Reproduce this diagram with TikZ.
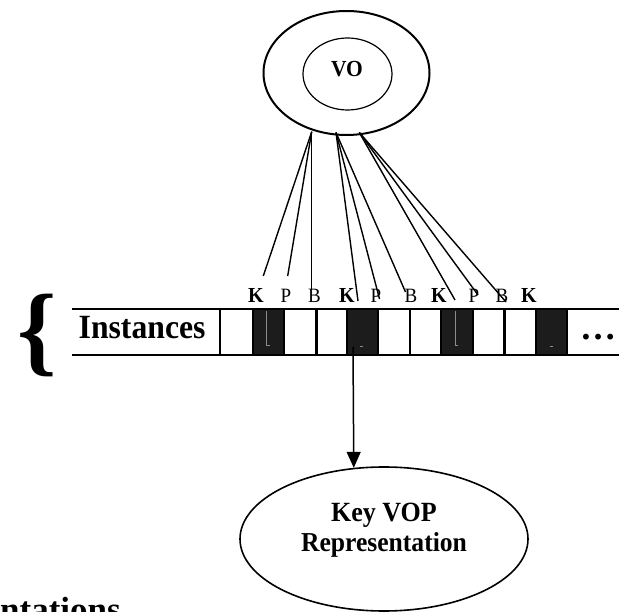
\documentclass[tikz,border=0pt]{standalone}
\usepackage{fontspec}
\setmainfont{Liberation Serif}
\usetikzlibrary{arrows.meta,shapes.geometric}

% slightly tall lettering
\newcommand{\tallbox}[1]{\scalebox{1}[1.07]{#1}}

\tikzset{
  ring/.style={draw, ellipse, inner sep=0pt},
  link/.style={line width=1.4pt},
  barline/.style={line width=2.2pt},
  keycell/.style={fill=black!89},
  faint/.style={draw=black!45, line width=0.6pt},
  tagk/.style={anchor=base, inner sep=0pt, font=\fontsize{20}{20}\selectfont\bfseries},
  tagpb/.style={anchor=base, inner sep=0pt, font=\fontsize{19}{19}\selectfont},
  bigbold/.style={inner sep=0pt, font=\fontsize{#1}{#1}\selectfont\bfseries},
}

\begin{document}
\begin{tikzpicture}[x=1pt, y=-1pt]
\path[use as bounding box, clip] (0,0) rectangle (619,612);

% video object
\node[ring, line width=2pt, minimum width=166pt, minimum height=124pt] (vo) at (346.5,73) {};
\node[ring, line width=1.2pt, minimum width=89pt, minimum height=72pt] (voin) at (347.5,74) {};
\node[bigbold=21.5, anchor=base] (votext) at (347,76.7) {\tallbox{VO}};

% frame type labels
\node[tagk]  (k1) at (256,303) {\tallbox{K}};
\node[tagpb] (p1) at (286,303) {\tallbox{P}};
\node[tagpb] (b1) at (314.5,303) {\tallbox{B}};
\node[tagk]  (k2) at (347,303) {\tallbox{K}};
\node[tagpb] (p2) at (376,303) {\tallbox{P}};
\node[tagpb] (b2) at (411,303) {\tallbox{B}};
\node[tagk]  (k3) at (439,303) {\tallbox{K}};
\node[tagpb] (p3) at (474,303) {\tallbox{P}};
\node[tagpb] (b3) at (502,303) {\tallbox{B}};
\node[tagk]  (k4) at (529,303) {\tallbox{K}};

% fan-out from the object
\coordinate (g1) at (311.7,131.7);
\coordinate (g2) at (336,132.5);
\coordinate (g3) at (359.3,132.5);
\coordinate (e1) at (263.3,276);
\coordinate (e2) at (287.7,276);
\coordinate (e3) at (311.7,289);
\coordinate (e4) at (358,301);
\coordinate (e5) at (379.5,299);
\coordinate (e6) at (405.5,292);
\coordinate (e7) at (455,300);
\coordinate (e8) at (478,295);
\coordinate (e9) at (506,302);
\draw[link] (g1) -- (e1);
\draw[link] (g1) -- (e2);
\draw[link] (g1) -- (e3);
\draw[link] (g2) -- (e4);
\draw[link] (g2) -- (e5);
\draw[link] (g2) -- (e6);
\draw[link] (g3) -- (e7);
\draw[link] (g3) -- (e8);
\draw[link] (g3) -- (e9);

% instance strip
\fill[keycell] (252.7,309) rectangle (284,355);
\fill[keycell] (347,309) rectangle (378,355);
\fill[keycell] (441,309) rectangle (473,355);
\fill[keycell] (536,309) rectangle (567,355);
\path[faint] (266.7,311) -- (266.7,345.5) -- (269.5,345.5);
\path[faint] (360,346) -- (363,346);
\path[faint] (455,311) -- (455,345.5) -- (457.5,345.5);
\path[faint] (550,346) -- (553,346);
\draw[barline] (72,309) -- (619,309);
\draw[barline] (72,355) -- (619,355);
\foreach \xx in {220,252.7,284,316.5,347,378,410,441,473,504.5,536,567}
  \draw[barline] (\xx,309) -- (\xx,355);

\node[bigbold=31.7, anchor=base west] (inst) at (78.5,339) {\tallbox{Instances}};
\node[bigbold=36, anchor=base west] (more) at (580,340) {…};
\node[bigbold=100, anchor=center] (brace) at (37,335) {\{};

% key VOP representation
\node[ring, line width=1.6pt, minimum width=288pt, minimum height=144pt] (key) at (384,539) {};
\node[bigbold=26, anchor=base] (keyA) at (384,521.7) {\tallbox{Key VOP}};
\node[bigbold=25.6, anchor=base] (keyB) at (384,551.7) {\tallbox{Representation}};
\coordinate (src) at (353,347);
\draw[line width=1.5pt, -{Triangle[length=16pt,width=14pt]}] (src) -- (key.113.3);

% heading fragment at the page edge
\node[bigbold=35, anchor=base west] (head) at (0,621) {ntations};
\end{tikzpicture}
\end{document}
